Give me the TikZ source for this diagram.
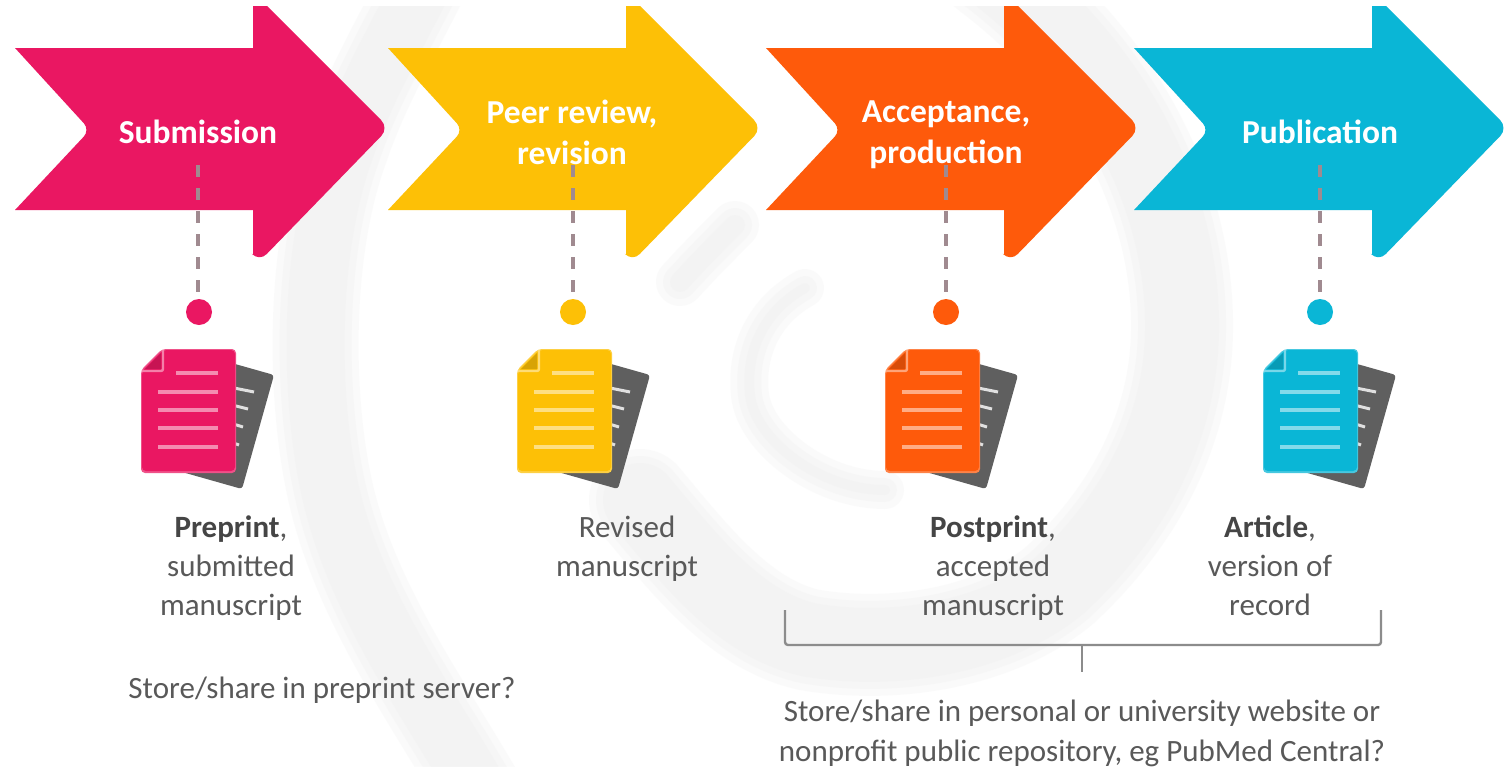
\documentclass[tikz,border=0pt]{standalone}
\usepackage{fontspec}
\setmainfont{Carlito}
\definecolor{cpink}{HTML}{EA1762}
\definecolor{cyellow}{HTML}{FDC006}
\definecolor{corange}{HTML}{FE5A0B}
\definecolor{cblue}{HTML}{0AB6D6}
\definecolor{ctext}{HTML}{595959}
\definecolor{cbold}{HTML}{454545}
\definecolor{cback}{HTML}{5F5F5F}
\definecolor{cswirl}{HTML}{EBEBEB}
\definecolor{cbrace}{HTML}{8C8C8C}
\definecolor{cdash}{HTML}{A08A90}
\tikzset{
  x=1pt,y=-1pt,
  arrowtitle/.style={text=white,font=\fontsize{33.5}{41}\selectfont\bfseries,align=center,inner sep=0pt},
  doclabel/.style={text=ctext,font=\fontsize{31}{39}\selectfont,align=center,inner sep=0pt},
  storelabel/.style={text=ctext,font=\fontsize{31}{40}\selectfont,align=center,inner sep=0pt},
  dot/.style={circle,minimum size=26pt,inner sep=0pt},
  dashline/.style={draw=cdash,line width=3.6pt,dash pattern=on 12pt off 11pt},
  brace/.style={draw=cbrace,line width=2.4pt,rounded corners=3pt},
  docline/.style={line width=4pt,draw=#1!50!white},
}
% a band of the faint watermark, with soft edges: three strokes on top of each other
\newcommand{\softband}[3][line cap=round]{%
  \foreach \d in {14,0,-14}
    \draw[cswirl,draw opacity=.22,line width=#2pt+\d pt,#1] #3;
}
\newcommand{\arrowshape}[2]{%
  \fill[#1,shift={(#2,0)}] (0,48) -- (238,48) -- (238,6) -- (252,6)
    [rounded corners=11pt] -- (374,128) -- (244,262) [sharp corners] -- (238,255)
    -- (238,210) -- (0,210) [rounded corners=9pt] -- (75,130) [sharp corners] -- cycle;
}
\newcommand{\docicon}[2]{%
  \begin{scope}[shift={(#2,0)}]
    \fill[cback,rounded corners=3pt] (86,362) -- (132,375) -- (100,489) -- (40,472) -- cycle;
    \foreach \ya/\xa/\xb in {388/92/112,405/90/106,423/88/101,441/86/97}
      \draw[white!88!black,line width=3pt] (\xa,\ya) -- (\xb,\ya+4);
    \fill[#1!75!white,rounded corners=4pt] (20,349) -- (94,349) -- (94,473) -- (-1,473) -- (-1,370) -- cycle;
    \fill[#1,rounded corners=4pt] (21,350) -- (93,350) -- (93,471) -- (0,471) -- (0,371) -- cycle;
    \draw[#1!55!white,line width=2.4pt,rounded corners=2pt] (0,371) -- (21,371) -- (21,350);
    \fill[#1!85!black] (3,369) -- (19,369) -- (19,353) -- cycle;
    \draw[docline=#1] (34,373) -- (76,373);
    \foreach \y in {392,410,428,447} \draw[docline=#1] (16,\y) -- (76,\y);
  \end{scope}
}
\begin{document}
\begin{tikzpicture}
\useasboundingbox (0,0) rectangle (1507,766);
\fill[white] (0,0) rectangle (1507,766);
% watermark swirl
\begin{scope}
\clip (0,6) rectangle (1507,766);
\softband{72}{(490,810) .. controls (440,720) and (365,620) .. (335,510)
   .. controls (310,420) and (305,260) .. (345,150)
   .. controls (365,90) and (395,40) .. (425,-20)}
\softband{88}{(990,-30) .. controls (1110,60) and (1180,190) .. (1182,320)
   .. controls (1184,430) and (1130,520) .. (1060,585)
   .. controls (1000,635) and (900,655) .. (810,640)
   .. controls (740,625) and (690,560) .. (640,500)}
\softband{34}{(735,225) .. controls (715,245) and (700,260) .. (680,282)}
\softband{24}{(805,288) .. controls (765,310) and (745,350) .. (750,395)
   .. controls (755,440) and (820,490) .. (885,490)}
\end{scope}
% arrows
\arrowshape{cpink}{15}
\arrowshape{cyellow}{388}
\arrowshape{corange}{766}
\arrowshape{cblue}{1134}
% titles
\node[arrowtitle] (t1) at (198,132) {Submission};
\node[arrowtitle] (t2) at (572,132) {Peer review,\\revision};
\node[arrowtitle] (t3) at (946,135) {Acceptance,\\production};
\node[arrowtitle] (t4) at (1320,132) {Publication};
% dots
\node[dot,fill=cpink] (d1) at (199,312) {};
\node[dot,fill=cyellow] (d2) at (573,312) {};
\node[dot,fill=corange] (d3) at (946,312) {};
\node[dot,fill=cblue] (d4) at (1320,312) {};
\coordinate (s1) at (198,165);
\coordinate (s2) at (573,165);
\coordinate (s3) at (946,165);
\coordinate (s4) at (1320,165);
\foreach \i in {1,2,3,4} \draw[dashline] (s\i) -- (s\i |- d\i.north);
% documents
\docicon{cpink}{142}
\docicon{cyellow}{518}
\docicon{corange}{886}
\docicon{cblue}{1264}
% labels
\node[doclabel] (l1) at (231,568) {\textcolor{cbold}{\textbf{Preprint}},\\submitted\\manuscript};
\node[doclabel] (l2) at (627,549) {Revised\\manuscript};
\node[doclabel] (l3) at (993,568) {\textcolor{cbold}{\textbf{Postprint}},\\accepted\\manuscript};
\node[doclabel] (l4) at (1270,566) {\textcolor{cbold}{\textbf{Article}},\\version of\\record};
\node[storelabel] (q1) at (322,690) {Store/share in preprint server?};
\node[storelabel] (q2) at (1082,733) {Store/share in personal or university website or\\nonprofit public repository, eg PubMed Central?};
% bracket
\coordinate (bl) at (785,610);
\coordinate (br) at (1381,610);
\coordinate (bm) at (1082,645);
\draw[brace] (bl) |- (bm) -| (br);
\draw[draw=cbrace,line width=2.4pt] (bm) -- (bm |- 0,672);
\end{tikzpicture}
\end{document}
